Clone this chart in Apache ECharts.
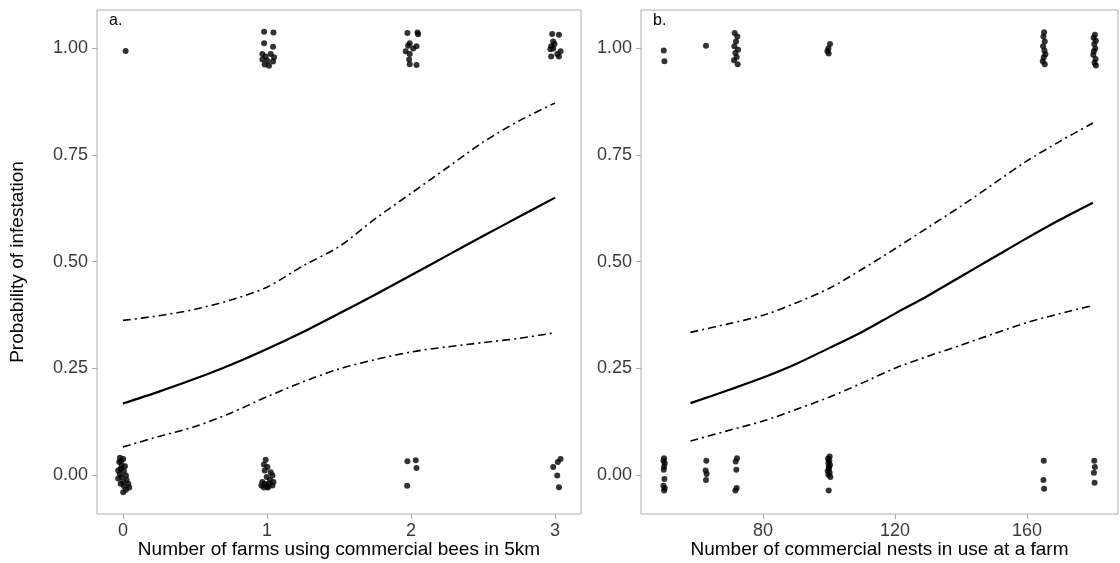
<!DOCTYPE html>
<html>
<head>
<meta charset="utf-8">
<script src="https://cdn.jsdelivr.net/npm/echarts@6/dist/echarts.min.js"></script>
<style>
  html, body { margin: 0; padding: 0; background: #fff; }
  #chart { width: 1120px; height: 563px; }
</style>
</head>
<body>
<div id="chart"></div>
<script>
// Panel a: number of farms using commercial bees within 5 km
const farmTicks = [0, 1, 2, 3];
const farmObserved = [
  // infested (1)
  [0.019, 0.994],
  [0.98, 1.039], [1.045, 1.037], [0.98, 1.012], [1.042, 1.004], [0.968, 0.987], [1.026, 0.987],
  [0.991, 0.981], [1.049, 0.979], [0.968, 0.974], [1.003, 0.971], [1.042, 0.969], [0.984, 0.962], [1.014, 0.959],
  [1.975, 1.036], [2.045, 1.037], [2.049, 1.033], [1.991, 1.012], [1.98, 1.006], [2.038, 1.005],
  [2.015, 1.0], [1.963, 0.993], [1.991, 0.987], [1.987, 0.974], [1.991, 0.963], [2.038, 0.961],
  [2.98, 1.034], [3.027, 1.032], [2.987, 1.016], [2.996, 1.01], [2.973, 1.005], [2.987, 1.0],
  [2.968, 0.998], [3.038, 0.993], [3.015, 0.987], [2.973, 0.981], [3.027, 0.981],
  // not infested (0)
  [-0.021, 0.040], [0.002, 0.037], [-0.026, 0.030], [-0.012, 0.033], [-0.009, 0.022], [0.014, 0.020],
  [-0.016, 0.014], [-0.033, 0.010], [0.007, 0.009], [-0.021, 0.002], [0.021, -0.002], [-0.009, -0.005],
  [-0.033, -0.009], [0.026, -0.012], [0.002, -0.017], [-0.016, -0.021], [0.037, -0.021], [0.007, -0.027],
  [0.044, -0.030], [0.021, -0.035], [0.002, -0.041],
  [0.991, 0.035], [0.979, 0.024], [1.003, 0.018], [0.984, 0.010], [1.026, 0.006], [1.038, -0.002],
  [0.998, -0.005], [1.021, -0.012], [0.968, -0.017], [1.045, -0.017], [0.984, -0.021], [1.014, -0.021],
  [0.961, -0.025], [1.003, -0.027], [1.038, -0.025], [0.979, -0.030], [1.007, -0.030],
  [1.975, 0.032], [2.033, 0.034], [2.038, 0.016], [1.973, -0.026],
  [3.038, 0.037], [3.019, 0.030], [2.987, 0.018], [3.015, -0.002], [3.027, -0.029]
];
const farmX = [0, 0.25, 0.5, 0.75, 1, 1.25, 1.5, 1.75, 2, 2.25, 2.5, 2.75, 3];
const farmFit = [0.167, 0.195, 0.225, 0.258, 0.295, 0.335, 0.378, 0.422, 0.468, 0.514, 0.56, 0.605, 0.65];
const farmUpper = [0.362, 0.373, 0.388, 0.41, 0.44, 0.49, 0.535, 0.6, 0.66, 0.72, 0.78, 0.83, 0.872];
const farmLower = [0.065, 0.09, 0.113, 0.145, 0.183, 0.218, 0.248, 0.27, 0.288, 0.3, 0.31, 0.32, 0.333];

// Panel b: number of commercial nests in use at a farm
const nestTicks = [80, 120, 160];
const nestObserved = [
  // infested (1)
  [49.9, 0.995], [50.1, 0.970],
  [62.7, 1.006],
  [71.4, 1.036], [72.2, 1.028], [71.8, 1.016], [71.3, 1.005], [72.4, 0.997], [71.6, 0.989],
  [72.0, 0.980], [71.2, 0.972], [72.3, 0.963],
  [100.3, 1.01], [99.8, 1.0], [99.5, 0.993], [99.9, 0.988],
  [165.2, 1.038], [165.0, 1.028], [165.4, 1.016], [164.9, 1.005], [165.3, 0.995], [165.6, 0.986],
  [165.1, 0.979], [164.8, 0.970], [165.4, 0.963],
  [180.6, 1.032], [180.2, 1.025], [180.9, 1.018], [180.4, 1.01], [180.7, 1.0], [180.3, 0.993],
  [180.1, 0.985], [180.8, 0.975], [180.5, 0.966], [180.9, 0.96],
  // not infested (0)
  [50.0, 0.039], [49.8, 0.033], [50.2, 0.027], [50.0, 0.019], [49.9, 0.012], [50.1, -0.010],
  [49.8, -0.026], [50.2, -0.031], [50.0, -0.037],
  [62.8, 0.033], [62.6, 0.010], [62.9, 0.002], [62.7, -0.012],
  [72.1, 0.039], [71.7, 0.031], [71.9, 0.012], [72.0, -0.031], [71.6, -0.037],
  [100.2, 0.043], [99.7, 0.038], [100.1, 0.033], [99.8, 0.028], [100.3, 0.023], [99.9, 0.019],
  [100.0, 0.014], [99.6, 0.009], [100.2, 0.005], [99.8, 0.0], [100.4, -0.005], [99.9, -0.037],
  [165.1, 0.033], [165.0, -0.012], [165.2, -0.033],
  [180.4, 0.033], [180.6, 0.018], [180.3, 0.005], [180.5, -0.019]
];
const nestX = [58, 70, 80, 90, 100, 110, 120, 130, 140, 150, 160, 170, 180];
const nestFit = [0.168, 0.2, 0.228, 0.26, 0.297, 0.335, 0.378, 0.42, 0.465, 0.51, 0.555, 0.598, 0.638];
const nestUpper = [0.334, 0.355, 0.374, 0.403, 0.437, 0.482, 0.53, 0.58, 0.63, 0.683, 0.736, 0.782, 0.825];
const nestLower = [0.079, 0.105, 0.126, 0.153, 0.182, 0.215, 0.25, 0.278, 0.304, 0.331, 0.357, 0.378, 0.397];

const probTicks = [0, 0.25, 0.5, 0.75, 1];

const zip = (xs, ys) => xs.map((x, i) => [x, ys[i]]);

const FONT = 'Liberation Sans, Arial, sans-serif';
const tickColor = '#3a3a3a';
const frameColor = '#adadad';

function xAxisFor(gridIndex, min, max, ticks, name, fmt) {
  return {
    type: 'value', gridIndex, min, max, name,
    nameLocation: 'middle', nameGap: 26, nameMoveOverlap: false,
    nameTextStyle: { color: '#000', fontSize: 19, fontFamily: FONT },
    splitLine: { show: false },
    axisLine: { show: false, onZero: false },
    axisTick: { show: true, length: 5, customValues: ticks, lineStyle: { color: frameColor } },
    axisLabel: { customValues: ticks, color: tickColor, fontSize: 18, fontFamily: FONT, margin: 8, formatter: fmt }
  };
}

function yAxisFor(gridIndex, withName) {
  return {
    type: 'value', gridIndex, min: -0.092, max: 1.09,
    name: withName ? 'Probability of infestation' : '',
    nameLocation: 'middle', nameGap: 70, nameMoveOverlap: false,
    nameTextStyle: { color: '#000', fontSize: 19, fontFamily: FONT },
    splitLine: { show: false },
    axisLine: { show: false, onZero: false },
    axisTick: { show: true, length: 5, customValues: probTicks, lineStyle: { color: frameColor } },
    axisLabel: { customValues: probTicks, color: tickColor, fontSize: 18, fontFamily: FONT, margin: 9,
                 formatter: v => v.toFixed(2) }
  };
}

function panelSeries(idx, pts, xs, fit, upper, lower) {
  const dashed = { color: '#000', width: 1.6, type: [8, 4, 2, 4] };
  return [
    { type: 'scatter', xAxisIndex: idx, yAxisIndex: idx, data: pts, symbol: 'circle', symbolSize: 6,
      itemStyle: { color: '#000' }, silent: true },
    { type: 'line', xAxisIndex: idx, yAxisIndex: idx, data: zip(xs, fit), showSymbol: false, smooth: 0.3,
      lineStyle: { color: '#000', width: 2.2 }, silent: true },
    { type: 'line', xAxisIndex: idx, yAxisIndex: idx, data: zip(xs, upper), showSymbol: false, smooth: 0.3,
      lineStyle: dashed, silent: true },
    { type: 'line', xAxisIndex: idx, yAxisIndex: idx, data: zip(xs, lower), showSymbol: false, smooth: 0.3,
      lineStyle: dashed, silent: true }
  ];
}

const chart = echarts.init(document.getElementById('chart'), null, { renderer: 'canvas' });
chart.setOption({
  animation: false,
  backgroundColor: '#fff',
  title: [
    { text: 'a.', left: 104, top: 8, textStyle: { fontSize: 16, fontWeight: 'normal', color: '#000', fontFamily: FONT } },
    { text: 'b.', left: 648, top: 8, textStyle: { fontSize: 16, fontWeight: 'normal', color: '#000', fontFamily: FONT } }
  ],
  grid: [
    { left: 97, top: 10, width: 484, height: 504, outerBoundsMode: 'none', containLabel: false,
      show: true, borderColor: frameColor, borderWidth: 1, backgroundColor: 'transparent' },
    { left: 641, top: 10, width: 477, height: 504, outerBoundsMode: 'none', containLabel: false,
      show: true, borderColor: frameColor, borderWidth: 1, backgroundColor: 'transparent' }
  ],
  xAxis: [
    xAxisFor(0, -0.18, 3.18, farmTicks, 'Number of farms using commercial bees in 5km', v => String(v)),
    xAxisFor(1, 43, 187.6, nestTicks, 'Number of commercial nests in use at a farm', v => String(v))
  ],
  yAxis: [yAxisFor(0, true), yAxisFor(1, false)],
  series: [
    ...panelSeries(0, farmObserved, farmX, farmFit, farmUpper, farmLower),
    ...panelSeries(1, nestObserved, nestX, nestFit, nestUpper, nestLower)
  ]
});
</script>
</body>
</html>
